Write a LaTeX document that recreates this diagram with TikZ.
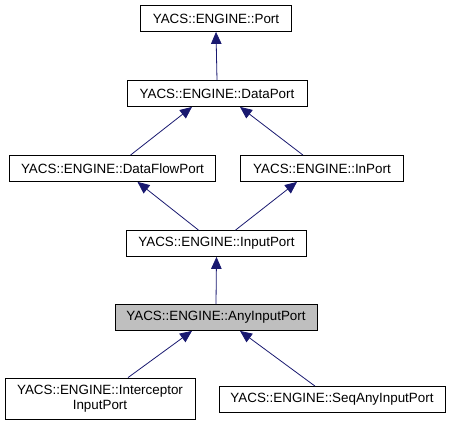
\documentclass[tikz,border=0pt]{standalone}
\usepackage{fontspec}
\setmainfont{Liberation Sans}
\usetikzlibrary{arrows.meta}
\definecolor{edgeblue}{HTML}{191970}
\definecolor{nodegray}{HTML}{BFBFBF}
\begin{document}
\begin{tikzpicture}[
    x=1pt, y=-1pt,
    cls/.style={rectangle, draw, line width=0.8pt, minimum height=26pt, inner sep=2pt, align=center, font=\fontsize{13.4}{15}\selectfont},
    inherit/.style={-{Triangle[length=12pt, width=10.5pt]}, edgeblue, line width=0.8pt}
]
    \useasboundingbox (0,0) rectangle (451,425);

    % Klassen
    \node[cls, minimum width=151pt] (port) at (216,18.5) {YACS::ENGINE::Port};
    \node[cls, minimum width=180pt] (dataport) at (217,93.5) {YACS::ENGINE::DataPort};
    \node[cls, minimum width=206pt] (dataflow) at (112.5,168.5) {YACS::ENGINE::DataFlowPort};
    \node[cls, minimum width=163pt] (inport) at (322,168.5) {YACS::ENGINE::InPort};
    \node[cls, minimum width=180pt] (input) at (216.5,243.5) {YACS::ENGINE::InputPort};
    \node[cls, minimum width=202pt, fill=nodegray] (anyinput) at (216,317.5) {YACS::ENGINE::AnyInputPort};
    \node[cls, minimum width=190pt, minimum height=41pt] (interceptor) at (100,398.5) {YACS::ENGINE::Interceptor\\InputPort};
    \node[cls, minimum width=226pt] (seqany) at (332,399.5) {YACS::ENGINE::SeqAnyInputPort};

    % Vererbungspfeile
    \draw[inherit] (dataport.north) -- (port.south);
    \draw[inherit] ([xshift=18pt]dataflow.north) -- ([xshift=-25pt]dataport.south);
    \draw[inherit] ([xshift=-19pt]inport.north) -- ([xshift=23pt]dataport.south);
    \draw[inherit] ([xshift=-18pt]input.north) -- ([xshift=25pt]dataflow.south);
    \draw[inherit] ([xshift=19pt]input.north) -- ([xshift=-25pt]inport.south);
    \draw[inherit] (anyinput.north) -- (input.south);
    \draw[inherit] ([xshift=28pt]interceptor.north) -- ([xshift=-24pt]anyinput.south);
    \draw[inherit] ([xshift=-17pt]seqany.north) -- ([xshift=24pt]anyinput.south);
\end{tikzpicture}
\end{document}
